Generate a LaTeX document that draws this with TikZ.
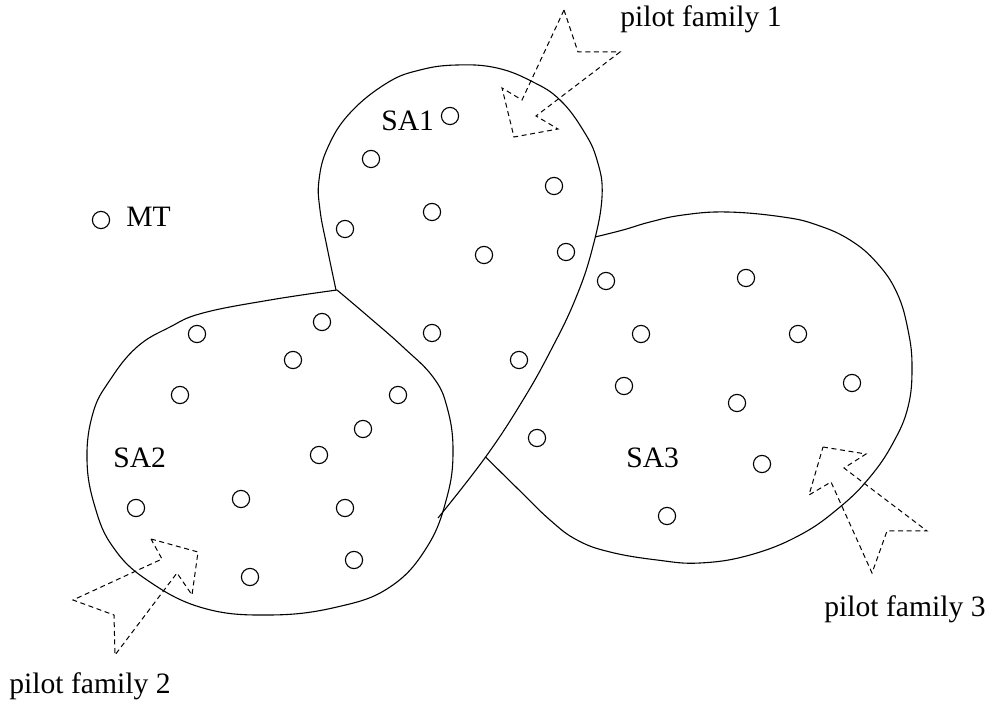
\documentclass[tikz,border=0pt]{standalone}
\usepackage{fontspec}
\setmainfont{Liberation Serif}
\begin{document}
\begin{tikzpicture}[x=0.5pt,y=-0.5pt,
  station/.style={circle,draw,line width=0.55pt,minimum size=8.6pt,inner sep=0pt},
  boundary/.style={line width=0.55pt},
  beam/.style={dash pattern=on 2.5pt off 1.8pt,line width=0.5pt},
  lbl/.style={anchor=base west,inner sep=0pt,font=\fontsize{14.8}{17}\selectfont}]
\useasboundingbox (0,0) rectangle (995,704);

% service area SA1 (upper teardrop)
\draw[boundary] plot[smooth,tension=0.7] coordinates {(438,518) (485.6,457) (523,400)
  (551,350) (575,300) (592,250) (602,197) (597,160) (583,130) (560,100) (533,82) (497,68)
  (457,65) (420,70) (387,83) (350,113) (328,147) (319,180) (320,210) (327,247) (336,290)};

% service area SA2 (lower left)
\draw[boundary] plot[smooth,tension=0.7] coordinates {(337,290) (270,300) (203,313)
  (170,327) (137,347) (110,380) (93,413) (87,460) (95,507) (113,547) (147,580) (203,608)
  (270,615) (337,607) (390,587) (427,547) (447,497) (453,450) (447,407) (433,377)
  (403,347) (370,318) (337,290)};

% service area SA3 (right)
\draw[boundary] plot[smooth,tension=0.7] coordinates {(595,237) (623,230) (650,222)
  (683,215) (727,212) (783,217) (817,225) (850,240) (877,263) (897,293) (908,330)
  (912,367) (908,407) (893,443) (870,477) (840,507) (800,535) (750,555) (700,563)
  (657,560) (610,552) (577,540) (550,520) (517,488) (485.6,457)};

% pilot beams
\draw[beam] (564,10) -- (578,52) -- (620,52) -- (536,116) -- (558,129) -- (514,137)
  -- (502,88) -- (522,100) -- cycle;
\draw[beam] (151,539) -- (198,552) -- (192,595) -- (177,573) -- (115,655) -- (114,615)
  -- (73,600) -- (162,559) -- cycle;
\draw[beam] (823,447) -- (866,454) -- (844,468) -- (927,531) -- (887,531) -- (872,573)
  -- (831,482) -- (809,495) -- cycle;

% terminals in SA1
\foreach \x/\y [count=\i] in {450/116, 371/159, 554/186, 432/212, 345/229, 484/255,
  566/252, 432/333, 519/360}
  \node[station] (a\i) at (\x,\y) {};
% terminals in SA2
\foreach \x/\y [count=\i] in {197/334, 322/322, 293/360, 180/395, 398/395, 363/429,
  319/455, 136/508, 241/499, 345/508, 354/560, 250/577}
  \node[station] (b\i) at (\x,\y) {};
% terminals in SA3
\foreach \x/\y [count=\i] in {606/281, 746/278, 641/334, 798/334, 624/386, 737/403,
  852/383, 537/438, 762/464, 667/516}
  \node[station] (c\i) at (\x,\y) {};

% mobile terminal
\node[station] (mt) at (101,220) {};
\node[lbl] (mtlabel) at (126,227) {MT};

% area labels
\node[lbl] (sa1) at (381,131) {SA1};
\node[lbl] (sa2) at (113,468) {SA2};
\node[lbl] (sa3) at (626,468) {SA3};

% pilot family labels
\node[lbl] (pf1) at (620,27) {pilot family 1};
\node[lbl] (pf2) at (9,693) {pilot family 2};
\node[lbl] (pf3) at (824,617) {pilot family 3};
\end{tikzpicture}
\end{document}
